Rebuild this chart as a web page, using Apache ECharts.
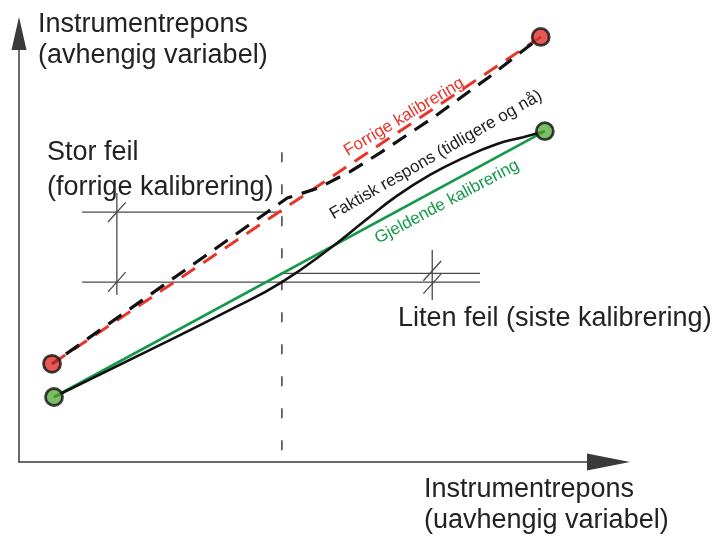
<!DOCTYPE html>
<html>
<head>
<meta charset="utf-8">
<script src="https://cdn.jsdelivr.net/npm/echarts/dist/echarts.min.js"></script>
<style>
html,body{margin:0;padding:0;background:#fff;}
#chart{width:722px;height:536px;}
</style>
</head>
<body>
<div id="chart"></div>
<script>
// ---- data (x: 0..100, y: 0..100 in diagram units) ----
const redDashed = [[5.6, 22.9], [88.5, 99.2]];
const blackDashed = [[5.6, 22.9], [45.5, 61.6], [50.7, 63.9], [56.1, 67.7], [61.2, 72.1], [70.2, 80.3], [79.7, 89.8], [88.5, 99.2]];
const blackSolid = [[5.94, 15.17], [20.5, 25.0], [35.8, 35.5], [44.6, 42.0], [53.3, 50.4], [58.4, 56.0], [64.1, 62.1], [69.7, 67.0], [75.3, 70.9], [81.1, 74.2], [85.5, 75.8], [89.2, 77.2]];
const greenLine = [[5.94, 15.17], [89.2, 77.2]];
const redPoints = [[5.6, 22.9], [88.5, 99.2]];
const greenPoints = [[5.94, 15.17], [89.2, 77.2]];
const vertDashed = [[44.6, 72.3], [44.6, 0]];
const guideSegments = [
  [[10.7, 58.3], [44.6, 58.3]],
  [[10.7, 42.0], [78.2, 42.0]],
  [[44.3, 44.0], [78.2, 44.0]],
  [[16.6, 62.8], [16.6, 39.0]],
  [[70.1, 49.5], [70.1, 37.8]]
];
const slashCenters = [[16.6, 58.3], [16.6, 42.0], [70.1, 44.6], [70.1, 41.6]];
const yTitle = ['Instrumentrepons', '(avhengig variabel)'];
const xTitle = ['Instrumentrepons', '(uavhengig variabel)'];
const bigError = ['Stor feil', '(forrige kalibrering)'];
const smallError = 'Liten feil (siste kalibrering)';
const lblPrev = 'Forrige kalibrering';
const lblActual = 'Faktisk respons (tidligere og nå)';
const lblCurrent = 'Gjeldende kalibrering';

const FONT = '"Liberation Sans", Arial, sans-serif';
const GUIDE = '#4a4a4a';
const RED = '#e8352b';
const GREEN = '#14994a';

const series = [];
function seg(data, style, z) {
  series.push({
    type: 'line', data: data, symbol: 'none', showSymbol: false, silent: true,
    clip: false, animation: false, z: z || 2,
    lineStyle: style
  });
}
seg(vertDashed, {color: '#333', width: 1.4, type: [10, 22]});
guideSegments.forEach(s => seg(s, {color: GUIDE, width: 1.3}));
const sdx = 1.5, sdy = 2.3;
slashCenters.forEach(c => seg([[c[0] - sdx, c[1] - sdy], [c[0] + sdx, c[1] + sdy]], {color: GUIDE, width: 1.3}));
seg(greenLine, {color: GREEN, width: 2.6}, 3);
series.push({
  type: 'line', data: blackSolid, symbol: 'none', showSymbol: false, silent: true,
  clip: false, animation: false, smooth: 0.5, z: 4,
  lineStyle: {color: '#111', width: 2.6}
});
seg(redDashed, {color: RED, width: 3, type: [16, 10], dashOffset: 0}, 5);
seg(blackDashed, {color: '#111', width: 3.2, type: [16, 10], dashOffset: 9}, 6);
series.push({
  type: 'scatter', data: redPoints, symbol: 'circle', symbolSize: 17, clip: false,
  silent: true, animation: false, z: 10,
  itemStyle: {color: '#e0312a', borderColor: '#111', borderWidth: 2.8}
});
series.push({
  type: 'scatter', data: greenPoints, symbol: 'circle', symbolSize: 17, clip: false,
  silent: true, animation: false, z: 10,
  itemStyle: {color: '#5aae3c', borderColor: '#111', borderWidth: 2.8}
});

function txt(x, y, text, size, color, rot, align) {
  return {
    type: 'text', x: x, y: y, rotation: (rot || 0) * Math.PI / 180, z: 20,
    style: {text: text, font: size + 'px ' + FONT, fill: color,
      align: align || 'left', verticalAlign: 'middle'}
  };
}

const graphic = [
  txt(38, 25, yTitle[0], 27, '#222'),
  txt(38, 56, yTitle[1], 27, '#222'),
  txt(424, 490, xTitle[0], 27, '#222'),
  txt(424, 521, xTitle[1], 27, '#222'),
  txt(47, 153, bigError[0], 27, '#222'),
  txt(47, 188, bigError[1], 27, '#222'),
  txt(398, 319, smallError, 27, '#222'),
  txt(404, 117, lblPrev, 17, RED, 31, 'center'),
  txt(436, 155, lblActual, 17, '#222', 30, 'center'),
  txt(447, 202, lblCurrent, 17, GREEN, 28, 'center')
];

const chart = echarts.init(document.getElementById('chart'), null, {renderer: 'canvas'});
chart.setOption({
  animation: false,
  backgroundColor: '#fff',
  grid: {left: 19, right: 113.5, top: 33.5, bottom: 74, containLabel: false, outerBoundsMode: 'none'},
  xAxis: {
    type: 'value', min: 0, max: 100,
    axisLine: {show: true, onZero: false, symbol: ['none', 'triangle'], symbolSize: [17, 43],
      lineStyle: {color: '#3a3a3a', width: 1.5}},
    axisTick: {show: false}, axisLabel: {show: false}, splitLine: {show: false}
  },
  yAxis: {
    type: 'value', min: 0, max: 100,
    axisLine: {show: true, onZero: false, symbol: ['none', 'triangle'], symbolSize: [15, 33],
      lineStyle: {color: '#3a3a3a', width: 1.5}},
    axisTick: {show: false}, axisLabel: {show: false}, splitLine: {show: false}
  },
  series: series,
  graphic: graphic
});
</script>
</body>
</html>
